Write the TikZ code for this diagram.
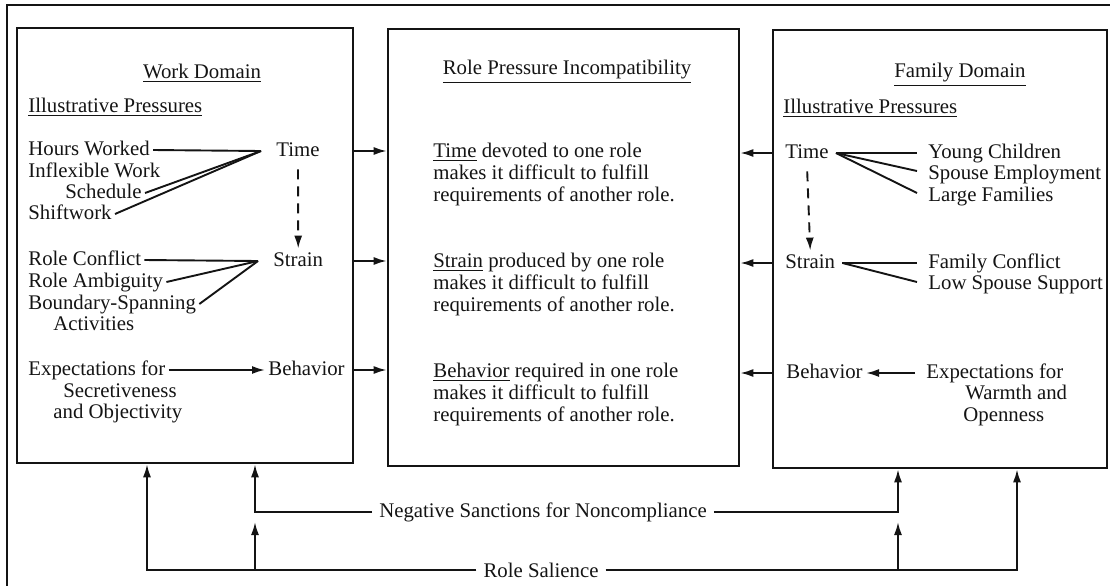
\documentclass[tikz,border=0pt]{standalone}
\usepackage{fontspec}
\setmainfont{Liberation Serif}
\usepackage{tikz}
\usetikzlibrary{arrows.meta,fit}
\definecolor{ink}{HTML}{141414}

\begin{document}
\begin{tikzpicture}[x=0.5pt,y=-0.5pt,
  every node/.style={font=\fontsize{10.4}{11}\selectfont,text=ink},
  txt/.style={inner sep=1.5pt,text height=0.7em,text depth=0.2em,anchor=west},
  para/.style={inner sep=0pt,align=left,anchor=west},
  box/.style={draw=ink,line width=1.3pt,inner sep=0pt},
  link/.style={draw=ink,line width=0.95pt},
  arr/.style={link,-{Latex[length=6.5pt,width=4pt]}},
  dasharr/.style={arr,dash pattern=on 5pt off 3.5pt,shorten <=3pt}]
  \useasboundingbox (0,0) rectangle (1110,585);
  \draw[ink,line width=1pt] (7,5) rectangle (1130,600);

  \node[box,fit={(17,28) (353,463)}] (wbox) {};
  \node[box,fit={(388,29) (739,466)}] (mbox) {};
  \node[box,fit={(773,30) (1107,468)}] (fbox) {};

  % work domain
  \node (wtitle) at (202,73) {\underline{Work Domain}};
  \node[txt] (wip) at (25,107) {\underline{Illustrative Pressures}};
  \node[txt] (hours) at (25,150) {Hours Worked};
  \node[txt] (inflex) at (25,172) {Inflexible Work};
  \node[txt] (sched) at (62,193) {Schedule};
  \node[txt] (shift) at (25,214) {Shiftwork};
  \node[txt] (rconf) at (25,260) {Role Conflict};
  \node[txt] (ramb) at (25,282) {Role Ambiguity};
  \node[txt] (bspan) at (25,304) {Boundary-Spanning};
  \node[txt] (activ) at (50,325) {Activities};
  \node[txt] (wexp) at (25,370) {Expectations for};
  \node[txt] (secr) at (60,392) {Secretiveness};
  \node[txt] (objec) at (50,413) {and Objectivity};
  \node[txt] (wtime) at (273,151) {Time};
  \node[txt] (wstrain) at (270,261) {Strain};
  \node[txt] (wbeh) at (265,370) {Behavior};

  \coordinate (wtj) at ([xshift=-6pt]wtime.west);
  \coordinate (wsj) at ([xshift=-6pt]wstrain.west);
  \foreach \n in {hours,sched,shift} \draw[link] (\n.east) -- (wtj);
  \foreach \n in {rconf,ramb,bspan} \draw[link] (\n.east) -- (wsj);
  \draw[arr] (wexp.east) -- (wbeh.west);
  \draw[dasharr] (wtime.south) -- (wstrain.north);

  % incompatibility
  \node (mtitle) at (567,72) {\underline{Role Pressure Incompatibility}};
  \node[para] (mtime) at (433,174) {\underline{Time} devoted to one role\\makes it difficult to fulfill\\requirements of another role.};
  \node[para] (mstrain) at (433,284) {\underline{Strain} produced by one role\\makes it difficult to fulfill\\requirements of another role.};
  \node[para] (mbeh) at (433,394) {\underline{Behavior} required in one role\\makes it difficult to fulfill\\requirements of another role.};

  % family domain
  \node (ftitle) at (960,75) {\underline{Family Domain}};
  \node[txt] (fip) at (780,108) {\underline{Illustrative Pressures}};
  \node[txt] (ftime) at (782,153) {Time};
  \node[txt] (young) at (925,153) {Young Children};
  \node[txt] (spouse) at (925,174) {Spouse Employment};
  \node[txt] (large) at (925,196) {Large Families};
  \node[txt] (fstrain) at (782,263) {Strain};
  \node[txt] (fconf) at (925,263) {Family Conflict};
  \node[txt] (lowsup) at (925,284) {Low Spouse Support};
  \node[txt] (fbeh) at (783,373) {Behavior};
  \node[txt] (fexp) at (923,373) {Expectations for};
  \node[txt] (warmth) at (962,394) {Warmth and};
  \node[txt] (open) at (960,416) {Openness};

  \coordinate (ftj) at ([xshift=2pt]ftime.east);
  \coordinate (fsj) at ([xshift=2pt]fstrain.east);
  \draw[link] (ftj) -- ([xshift=-4pt]young.west);
  \foreach \n in {spouse,large} \draw[link] (ftj) -- ([xshift=-4pt,yshift=1.5pt]\n.west);
  \draw[link] (fsj) -- ([xshift=-4pt]fconf.west);
  \draw[link] (fsj) -- ([xshift=-4pt,yshift=1pt]lowsup.west);
  \draw[arr] ([xshift=-4pt]fexp.west) -- (fbeh.east);
  \draw[dasharr] (ftime.south) -- (fstrain.north);

  % between the boxes
  \foreach \n in {wtime,wstrain,wbeh} \draw[arr] (wbox.east |- \n) -- (mbox.west |- \n);
  \foreach \n in {ftime,fstrain,fbeh} \draw[arr] (fbox.west |- \n) -- (mbox.east |- \n);

  % feedback lines
  \node (sanc) at (543,512) {Negative Sanctions for Noncompliance};
  \node (sal) at (541,570) {Role Salience};
  \coordinate (wsanc) at ([xshift=35pt]wbox.south);
  \coordinate (wsal) at ([xshift=-19pt]wbox.south);
  \coordinate (fsanc) at ([xshift=-21pt]fbox.south);
  \coordinate (fsal) at ([xshift=38.5pt]fbox.south);
  \draw[arr] (sanc.west) -| (wsanc);
  \draw[arr] (sanc.east) -| (fsanc);
  \draw[arr] (sal.west) -| (wsal);
  \draw[arr] (sal.east) -| (fsal);
  \draw[arr,shorten >=5pt] (wsanc |- sal) -- (wsanc |- sanc);
  \draw[arr,shorten >=5pt] (fsanc |- sal) -- (fsanc |- sanc);
\end{tikzpicture}
\end{document}
